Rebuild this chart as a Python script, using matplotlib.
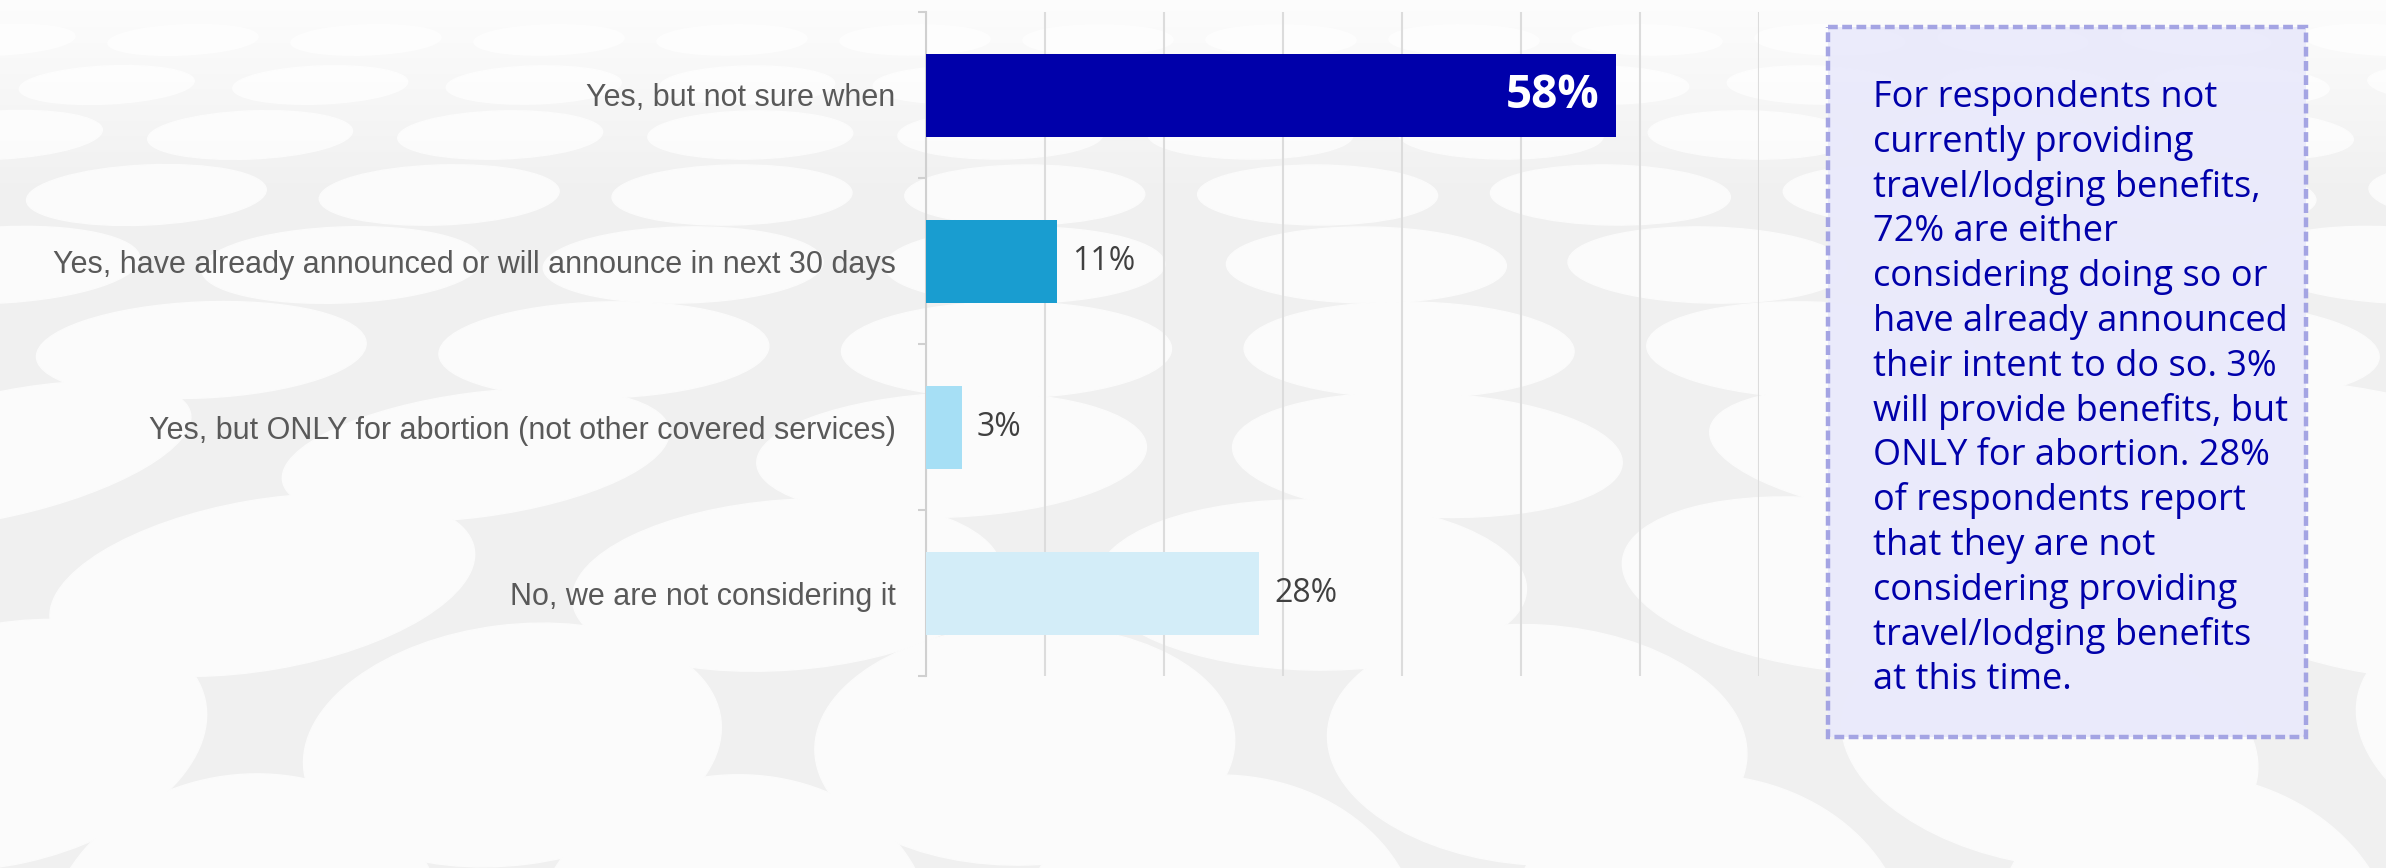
import numpy as np
import matplotlib.pyplot as plt
from matplotlib.patches import Ellipse, Rectangle

categories = [
    "Yes, but not sure when",
    "Yes, have already announced or will announce in next 30 days",
    "Yes, but ONLY for abortion (not other covered services)",
    "No, we are not considering it",
]
values = [58, 11, 3, 28]
value_labels = ["58%", "11%", "3%", "28%"]
bar_colors = ["#0000AA", "#199DD0", "#A6DFF5", "#D3EDF8"]

note_lines = [
    "For respondents not",
    "currently providing",
    "travel/lodging benefits,",
    "72% are either",
    "considering doing so or",
    "have already announced",
    "their intent to do so. 3%",
    "will provide benefits, but",
    "ONLY for abortion. 28%",
    "of respondents report",
    "that they are not",
    "considering providing",
    "travel/lodging benefits",
    "at this time.",
]

W, H = 2386, 868
fig = plt.figure(figsize=(W / 100, H / 100), dpi=100)

# backdrop: grey with rows of pale ovals that get bigger towards the bottom
bg = fig.add_axes([0, 0, 1, 1], zorder=-10)
bg.set_xlim(0, W)
bg.set_ylim(H, 0)
bg.axis("off")
bg.add_patch(Rectangle((0, 0), W, H, color="#f0f0f0", zorder=0))
rows_y = [40, 85, 135, 195, 265, 350, 455, 585, 745, 940]
rows_h = [30, 38, 48, 60, 76, 96, 124, 170, 240, 330]
rows_w = [150, 175, 205, 240, 280, 330, 390, 430, 420, 400]
for r, (yc, hh, ww) in enumerate(zip(rows_y, rows_h, rows_w)):
    step = ww * 1.22
    shift = (step / 2) if r % 2 else 0
    xc = -step + shift
    while xc < W + step:
        tilt = (xc - W / 2) / W * (25 if r > 5 else 6)
        bg.add_patch(Ellipse((xc, yc), ww, hh, angle=tilt,
                             color="#fbfbfb", zorder=1))
        xc += step
fade = np.linspace(0.85, 0, 200)[:, None] * np.ones((1, 2))
white = np.ones((200, 2, 4))
white[..., 3] = fade
bg.imshow(white, extent=(0, W, 200, 0), aspect="auto", zorder=2)
bg.set_xlim(0, W)
bg.set_ylim(H, 0)

# note box on the right
bg.add_patch(Rectangle((1828, 27), 478, 710, facecolor="#eaeafb",
                       edgecolor="#a0a0e2", lw=3.2, linestyle=(0, (2.2, 1)),
                       alpha=0.95, zorder=3))
for k, line in enumerate(note_lines):
    bg.text(1873, 107 + k * 44.8, line, fontsize=26, family="Open Sans",
            color="#0000AA", va="baseline", ha="left", zorder=4)

# bar chart
ax = fig.add_axes([926 / W, 1 - 676 / H, (1759 - 926) / W, (676 - 12) / H])
ax.set_facecolor("none")
ypos = np.arange(len(categories))
ax.barh(ypos, values, height=0.5, color=bar_colors, zorder=3)
ax.set_xlim(0, 70)
ax.set_ylim(3.5, -0.5)
ax.set_xticks(np.arange(0, 71, 10))
ax.tick_params(axis="x", length=0, labelbottom=False)
ax.grid(axis="x", color="#dcdcdc", lw=1.5, zorder=0)
for s in ["top", "right", "bottom"]:
    ax.spines[s].set_visible(False)
ax.spines["left"].set_color("#d0d0d0")
ax.spines["left"].set_linewidth(1.5)
ax.set_yticks(ypos)
ax.set_yticklabels(categories, family=["Liberation Sans", "DejaVu Sans"],
                   fontsize=22, color="#595959")
ax.tick_params(axis="y", length=0, pad=22)
ax.set_yticks(np.arange(-0.5, 4, 1), minor=True)
ax.tick_params(axis="y", which="minor", length=6, width=1.5, color="#d0d0d0")

for i, (v, lab) in enumerate(zip(values, value_labels)):
    if v > 40:
        ax.annotate(lab, (v, i), xytext=(-12, 0), textcoords="offset points",
                    ha="right", va="center", fontsize=33, fontweight="bold",
                    family="Open Sans", color="white", zorder=4)
    else:
        ax.annotate(lab, (v, i), xytext=(11, 0), textcoords="offset points",
                    ha="left", va="center", fontsize=23,
                    family="Open Sans", color="#404040", zorder=4)

fig.savefig("out.png", dpi=100)
